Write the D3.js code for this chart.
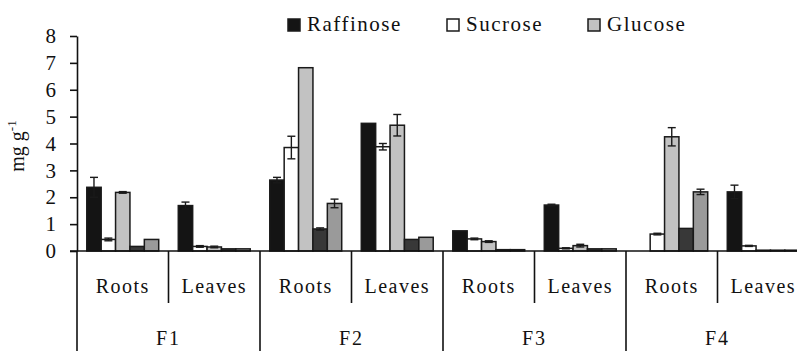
<!DOCTYPE html>
<html>
<head>
<meta charset="utf-8">
<script src="https://cdn.jsdelivr.net/npm/d3@7"></script>
<style>
  body { margin: 0; background: #fff; }
  svg text { font-family: "Liberation Serif", Tinos, "Times New Roman", Times, "DejaVu Serif", serif; fill: #111; }
  .lbl { font-size: 20px; }
  .tick text { font-size: 21px; }
  .leg { font-size: 21px; }
  .ylab { font-size: 20px; }
</style>
</head>
<body>
<div id="chart"></div>
<script>
// treatments and organs (x categories)
const treatments = ["F1", "F2", "F3", "F4"];
const organs = ["Roots", "Leaves"];
const yTicks = [0, 1, 2, 3, 4, 5, 6, 7, 8];

// series values in mg g-1, order: F1 Roots, F1 Leaves, F2 Roots, F2 Leaves, ...
const raffinose    = [2.37, 1.69, 2.64, 4.75, 0.75, 1.71, 0.00, 2.20];
const raffinoseErr = [0.37, 0.13, 0.10, 0.00, 0.00, 0.03, 0.00, 0.25];
const sucrose      = [0.43, 0.17, 3.85, 3.88, 0.45, 0.10, 0.63, 0.19];
const sucroseErr   = [0.05, 0.03, 0.42, 0.12, 0.03, 0.02, 0.03, 0.02];
const glucose      = [2.18, 0.15, 6.82, 4.68, 0.35, 0.20, 4.25, 0.03];
const glucoseErr   = [0.03, 0.03, 0.00, 0.40, 0.03, 0.05, 0.34, 0.00];
const seriesD      = [0.17, 0.08, 0.82, 0.43, 0.05, 0.08, 0.84, 0.03];
const seriesDErr   = [0.00, 0.00, 0.04, 0.00, 0.00, 0.00, 0.00, 0.00];
const seriesE      = [0.43, 0.08, 1.77, 0.51, 0.05, 0.08, 2.20, 0.03];
const seriesEErr   = [0.00, 0.00, 0.16, 0.00, 0.00, 0.00, 0.10, 0.00];

const legendNames = ["Raffinose", "Sucrose", "Glucose"];

let series = [
    {key: "raffinose", values: raffinose, errs: raffinoseErr, fill: "#141414"},
    {key: "sucrose", values: sucrose, errs: sucroseErr, fill: "#ffffff"},
    {key: "glucose", values: glucose, errs: glucoseErr, fill: "#c2c2c2"},
    {key: "seriesD", values: seriesD, errs: seriesDErr, fill: "#383838"},
    {key: "seriesE", values: seriesE, errs: seriesEErr, fill: "#9a9a9a"}
];

let width = 797, height = 351;
let axisX = 77, baseY = 251, topY = 36, rightX = 809;

let svg = d3.select("#chart").append("svg")
    .attr("width", width)
    .attr("height", height);

// sub-group keys
let subgroups = [];
treatments.forEach(t => organs.forEach(o => subgroups.push(t + "|" + o)));

let x0 = d3.scaleBand().domain(subgroups).range([axisX, rightX]).padding(0);
let x1 = d3.scaleBand().domain(series.map(s => s.key))
    .range([0, x0.bandwidth()]).paddingInner(0).paddingOuter(0.68);
let y = d3.scaleLinear().domain([0, 8]).range([baseY, topY]);

// y axis
let yAxis = svg.append("g")
    .attr("transform", "translate(" + axisX + ",0)")
    .call(d3.axisLeft(y).tickValues(yTicks).tickSize(7).tickPadding(14).tickSizeOuter(0));
yAxis.attr("font-family", null).attr("font-size", null);
yAxis.select(".domain").attr("stroke", "#111").attr("stroke-width", 1.6);
yAxis.selectAll(".tick line").attr("stroke", "#111").attr("stroke-width", 1.6);

// bars
let groups = svg.append("g").selectAll("g")
    .data(subgroups)
    .enter().append("g")
    .attr("transform", d => "translate(" + x0(d) + ",0)");

groups.selectAll("rect")
    .data((d, i) => series.map(s => ({key: s.key, fill: s.fill, value: s.values[i], err: s.errs[i]})))
    .enter().append("rect")
    .attr("x", d => x1(d.key))
    .attr("y", d => y(d.value))
    .attr("width", x1.bandwidth())
    .attr("height", d => baseY - y(d.value))
    .attr("fill", d => d.fill)
    .attr("stroke", d => d.value > 0 ? "#1a1a1a" : "none")
    .attr("stroke-width", 1.5);

// error bars
let errG = groups.selectAll("g.err")
    .data((d, i) => series.map(s => ({key: s.key, value: s.values[i], err: s.errs[i]})).filter(d => d.err > 0))
    .enter().append("g")
    .attr("class", "err")
    .attr("stroke", "#1a1a1a")
    .attr("stroke-width", 1.4);

errG.append("line")
    .attr("x1", d => x1(d.key) + x1.bandwidth() / 2)
    .attr("x2", d => x1(d.key) + x1.bandwidth() / 2)
    .attr("y1", d => y(d.value - d.err))
    .attr("y2", d => y(d.value + d.err));
errG.append("line")
    .attr("x1", d => x1(d.key) + x1.bandwidth() / 2 - 4)
    .attr("x2", d => x1(d.key) + x1.bandwidth() / 2 + 4)
    .attr("y1", d => y(d.value + d.err))
    .attr("y2", d => y(d.value + d.err));
errG.append("line")
    .attr("x1", d => x1(d.key) + x1.bandwidth() / 2 - 4)
    .attr("x2", d => x1(d.key) + x1.bandwidth() / 2 + 4)
    .attr("y1", d => y(d.value - d.err))
    .attr("y2", d => y(d.value - d.err));

// x axis baseline
svg.append("line")
    .attr("x1", axisX - 7).attr("x2", rightX)
    .attr("y1", baseY).attr("y2", baseY)
    .attr("stroke", "#111").attr("stroke-width", 1.6);

// separators between organs and treatments
let tw = x0.bandwidth() * 2;
treatments.forEach((t, i) => {
    let left = x0(t + "|Roots");
    svg.append("line")
        .attr("x1", left).attr("x2", left)
        .attr("y1", baseY).attr("y2", height)
        .attr("stroke", "#111").attr("stroke-width", 1.6);
    let mid = x0(t + "|Leaves");
    svg.append("line")
        .attr("x1", mid).attr("x2", mid)
        .attr("y1", baseY).attr("y2", 303)
        .attr("stroke", "#111").attr("stroke-width", 1.6);
    svg.append("text")
        .attr("class", "lbl")
        .attr("x", left + tw / 2)
        .attr("y", 345)
        .attr("text-anchor", "middle")
        .style("letter-spacing", "2px")
        .text(t);
});

subgroups.forEach(d => {
    svg.append("text")
        .attr("class", "lbl")
        .attr("x", x0(d) + x0.bandwidth() / 2)
        .attr("y", 293)
        .attr("text-anchor", "middle")
        .style("letter-spacing", "1.5px")
        .text(d.split("|")[1]);
});

// y label
let yl = svg.append("text")
    .attr("class", "ylab")
    .attr("transform", "translate(24,146) rotate(-90)")
    .attr("text-anchor", "middle");
yl.append("tspan").text("mg g");
yl.append("tspan").style("font-size", "13px").attr("dy", -8).text("-1");

// legend
let legendX = [288, 447, 588];
let legend = svg.append("g").selectAll("g")
    .data(legendNames)
    .enter().append("g")
    .attr("transform", (d, i) => "translate(" + legendX[i] + ",19)");
legend.append("rect")
    .attr("width", 12).attr("height", 12)
    .attr("fill", (d, i) => series[i].fill)
    .attr("stroke", "#1a1a1a").attr("stroke-width", 1.5);
legend.append("text")
    .attr("class", "leg")
    .attr("x", 19).attr("y", 12)
    .style("letter-spacing", "1.5px")
    .text(d => d);
</script>
</body>
</html>
